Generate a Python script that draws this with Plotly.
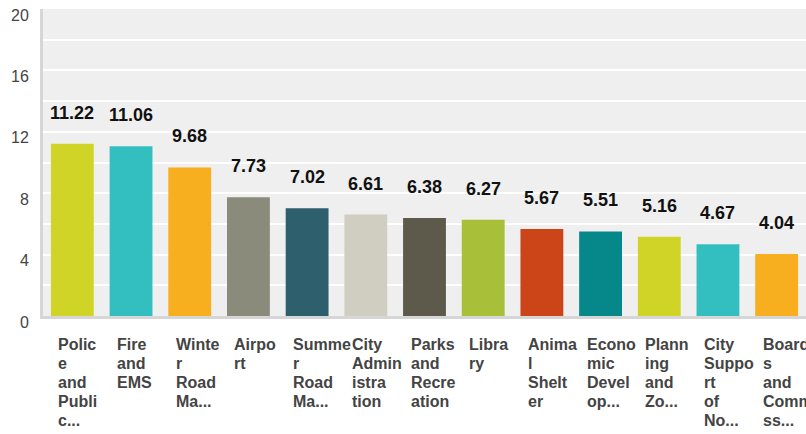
import plotly.graph_objects as go

categories = ["Police and Public Safety", "Fire and EMS", "Winter Road Maintenance",
              "Airport", "Summer Road Maintenance", "City Administration",
              "Parks and Recreation", "Library", "Animal Shelter",
              "Economic Development", "Planning and Zoning",
              "City Support of Nonprofits", "Boards and Commissions"]
values = [11.22, 11.06, 9.68, 7.73, 7.02, 6.61, 6.38, 6.27, 5.67, 5.51, 5.16, 4.67, 4.04]
tick_labels = [
    ["Polic", "e", "and", "Publi", "c..."],
    ["Fire", "and", "EMS"],
    ["Winte", "r", "Road", "Ma..."],
    ["Airpo", "rt"],
    ["Summe", "r", "Road", "Ma..."],
    ["City", "Admin", "istra", "tion"],
    ["Parks", "and", "Recre", "ation"],
    ["Libra", "ry"],
    ["Anima", "l", "Shelt", "er"],
    ["Econo", "mic", "Devel", "op..."],
    ["Plann", "ing", "and", "Zo..."],
    ["City", "Suppo", "rt", "of", "No..."],
    ["Board", "s", "and", "Comm", "ss..."],
]
colors = ["#cfd427", "#33bfc0", "#f7ae1f", "#8a8b7b", "#2e5f6c", "#cfcec0",
          "#5d5a4b", "#a8bf3a", "#cc4519", "#06888a", "#cfd427", "#33bfc0", "#f7ae1f"]
y_ticks = [0, 4, 8, 12, 16, 20]

fig = go.Figure(go.Bar(x=categories, y=values, marker=dict(color=colors, line=dict(width=0)),
                       hoverinfo="x+y"))

annotations = []
for c, v in zip(categories, values):
    annotations.append(dict(x=c, y=v, xref="x", yref="y", text="<b>%.2f</b>" % v,
                            showarrow=False, yanchor="middle", yshift=31,
                            font=dict(family="Liberation Sans, Arial", size=18, color="#111")))
for c, lines in zip(categories, tick_labels):
    for k, line in enumerate(lines):
        annotations.append(dict(x=c, y=0, xref="x", yref="y", text="<b>%s</b>" % line,
                                showarrow=False, xanchor="left", yanchor="middle",
                                xshift=-16, yshift=-(28 + 19 * k),
                                font=dict(family="Liberation Sans, Arial", size=16, color="#444")))
for t in y_ticks:
    annotations.append(dict(x=0, y=t, xref="paper", yref="y", text=str(t), showarrow=False,
                            xanchor="right", yanchor="middle", xshift=-12, yshift=-6,
                            font=dict(family="Liberation Sans, Arial", size=16, color="#444")))

fig.update_layout(
    width=806, height=434,
    margin=dict(l=43, r=0, t=9, b=118, autoexpand=False),
    paper_bgcolor="white", plot_bgcolor="#efefef",
    bargap=0.27, showlegend=False,
    annotations=annotations,
    xaxis=dict(showticklabels=False, showgrid=False, zeroline=False, range=[-0.5, 12.5],
               showline=True, linecolor="#d6d6d6", linewidth=3, fixedrange=True),
    yaxis=dict(range=[0, 20], tickvals=y_ticks, showticklabels=False,
               showgrid=True, gridcolor="white", gridwidth=2,
               minor=dict(dtick=2, showgrid=True, gridcolor="white", gridwidth=2),
               zeroline=False, showline=True, linecolor="#d6d6d6", linewidth=3,
               fixedrange=True),
)

fig.write_html("out.html", config={"displayModeBar": False},
               post_script="document.body.style.margin='0';")
